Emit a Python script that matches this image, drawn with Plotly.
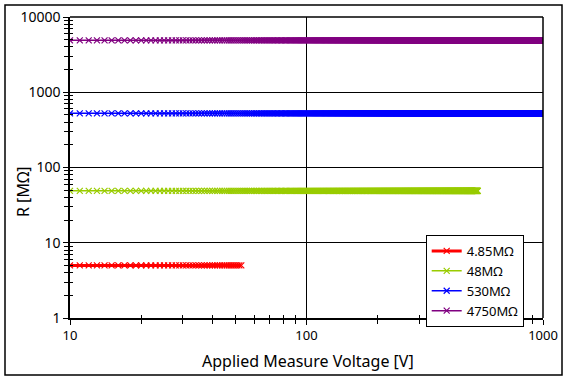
import plotly.graph_objects as go

# Data
series_names = ["4.85MΩ", "48MΩ", "530MΩ", "4750MΩ"]
series_colors = ["#FF0000", "#99CC00", "#0000FF", "#800080"]
series_widths = [3, 1.5, 1.5, 1.5]
v_red = list(range(10, 54))
v_green = list(range(10, 531))
v_blue = list(range(10, 1001))
v_purple = list(range(10, 1001))
r_red = [5.0] * len(v_red)
r_green = [49.0] * len(v_green)
r_blue = [525.0] * len(v_blue)
r_purple = [4900.0] * len(v_purple)
x_tick_vals = [10, 100, 1000]
x_tick_text = ["10", "100", "1000"]
y_tick_vals = [1, 10, 100, 1000, 10000]
y_tick_text = ["1", "10", "100", "1000", "10000"]
minor_x = [v for d in (10, 100) for v in [d * k for k in range(2, 10)]]
minor_y = [v for d in (1, 10, 100, 1000) for v in [d * k for k in range(2, 10)]]

xs = [v_red, v_green, v_blue, v_purple]
ys = [r_red, r_green, r_blue, r_purple]

fig = go.Figure()
for name, col, w, x, y in zip(series_names, series_colors, series_widths, xs, ys):
    fig.add_trace(go.Scatter(
        x=x, y=y, name=name, mode="lines+markers",
        line=dict(color=col, width=w),
        marker=dict(symbol="x-thin", size=6, line=dict(color=col, width=1.2), color=col),
    ))

# invisible trace on overlay axes (for crossing ticks)
fig.add_trace(go.Scatter(x=[10], y=[1], xaxis="x2", yaxis="y2", mode="markers",
                         marker=dict(opacity=0), showlegend=False, hoverinfo="skip"))

font_family = "Noto Sans, DejaVu Sans, sans-serif"
axis_common = dict(type="log", showline=True, linecolor="black", linewidth=1.5,
                   gridcolor="black", gridwidth=1, zeroline=False, automargin=False)

fig.update_layout(
    template="none",
    width=568, height=380,
    margin=dict(l=70, r=25, t=17, b=62, autoexpand=False),
    paper_bgcolor="white", plot_bgcolor="white",
    font=dict(family=font_family, size=13, color="black"),
    showlegend=True,
    legend=dict(x=0.752, y=(318 - 281) / 301, xanchor="left", yanchor="middle",
                bordercolor="black", borderwidth=1, bgcolor="white",
                font=dict(size=13), tracegroupgap=0, itemwidth=30),
    xaxis=dict(axis_common, range=[1, 3], tickmode="array", tickvals=x_tick_vals,
               ticktext=x_tick_text, ticks="outside", ticklen=5, tickcolor="black",
               tickfont=dict(size=13),
               minor=dict(tickmode="array", tickvals=minor_x, ticks="outside",
                          ticklen=4, tickcolor="black", showgrid=False)),
    yaxis=dict(axis_common, range=[0, 4], tickmode="array", tickvals=y_tick_vals,
               ticktext=y_tick_text, ticks="outside", ticklen=5, tickcolor="black",
               tickfont=dict(size=14),
               minor=dict(tickmode="array", tickvals=minor_y, ticks="outside",
                          ticklen=4, tickcolor="black", showgrid=False)),
    xaxis2=dict(type="log", range=[1, 3], overlaying="x", anchor="y", side="bottom",
                showgrid=False, showticklabels=False, zeroline=False, automargin=False,
                tickmode="array", tickvals=x_tick_vals, ticks="inside", ticklen=3, tickcolor="black",
                minor=dict(tickmode="array", tickvals=minor_x, ticks="inside",
                           ticklen=3, tickcolor="black", showgrid=False)),
    yaxis2=dict(type="log", range=[0, 4], overlaying="y", anchor="x", side="left",
                showgrid=False, showticklabels=False, zeroline=False, automargin=False,
                tickmode="array", tickvals=y_tick_vals, ticks="inside", ticklen=3, tickcolor="black",
                minor=dict(tickmode="array", tickvals=minor_y, ticks="inside",
                           ticklen=3, tickcolor="black", showgrid=False)),
    shapes=[
        dict(type="line", xref="paper", yref="paper", x0=1, x1=1, y0=0, y1=1,
             line=dict(color="black", width=1.5)),
        dict(type="line", xref="paper", yref="paper", x0=0, x1=1, y0=1, y1=1,
             line=dict(color="black", width=1.5)),
        dict(type="rect", xref="paper", yref="paper",
             x0=(5 - 70) / 473, x1=(562 - 70) / 473,
             y0=(318 - 375) / 301, y1=(318 - 5) / 301,
             line=dict(color="black", width=1.5), fillcolor="rgba(0,0,0,0)", layer="below"),
    ],
    annotations=[
        dict(text="Applied Measure Voltage [V]", xref="paper", yref="paper",
             x=(308 - 70) / 473, y=(318 - 361) / 301, xanchor="center", yanchor="middle",
             showarrow=False, font=dict(size=16)),
        dict(text="R [MΩ]", xref="paper", yref="paper", textangle=-90,
             x=(23 - 70) / 473, y=(318 - 192) / 301, xanchor="center", yanchor="middle",
             showarrow=False, font=dict(size=16)),
    ],
)

fig.write_html("out.html", config={"displayModeBar": False},
               post_script="document.body.style.margin='0';document.body.style.overflow='hidden';")
